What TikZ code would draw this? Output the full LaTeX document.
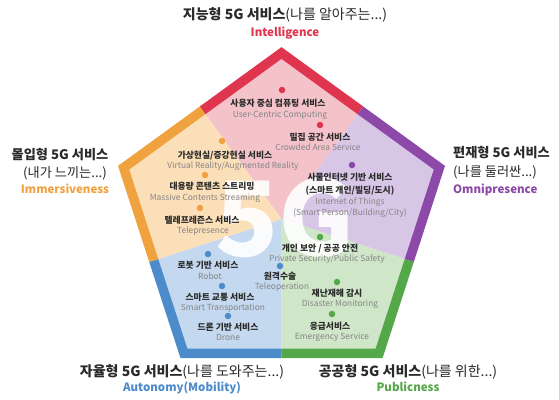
\documentclass[tikz,border=0pt]{standalone}
\usepackage{fontspec}
\setmainfont{Noto Sans CJK KR}
\usetikzlibrary{calc}

\definecolor{cred}{HTML}{E0354F}
\definecolor{credl}{HTML}{F4C3C9}
\definecolor{corange}{HTML}{F0A23F}
\definecolor{corangel}{HTML}{FBDFB9}
\definecolor{cpurple}{HTML}{8C49A8}
\definecolor{cpurplel}{HTML}{D8C6E7}
\definecolor{cgreen}{HTML}{55A84A}
\definecolor{cgreenl}{HTML}{D0E6C8}
\definecolor{cblue}{HTML}{4D8CCB}
\definecolor{cbluel}{HTML}{C4D8F0}
\definecolor{darktext}{HTML}{2A2A2A}
\definecolor{engray}{HTML}{858585}

\tikzset{
  band/.style={line width=9.5pt, line join=miter},
  dot/.style={circle, inner sep=0pt, minimum size=6.5pt},
  kor/.style={font=\fontsize{8.8}{10}\selectfont\bfseries, text=darktext,
              inner sep=0pt, text height=7.4pt, text depth=0.9pt},
  eng/.style={font=\fontsize{8.4}{10}\selectfont, text=engray,
              inner sep=0pt, text height=6.2pt, text depth=1.6pt},
  ttl/.style={font=\fontsize{14}{16}\selectfont\bfseries, text=darktext,
              inner sep=0pt, text height=11.5pt, text depth=2pt},
  sidettl/.style={ttl, font=\fontsize{13.2}{16}\selectfont\bfseries},
  sidesub/.style={ttl, font=\fontsize{13.2}{16}\selectfont},
  sub/.style={font=\fontsize{11.5}{14}\selectfont\bfseries, inner sep=0pt,
              text height=8.8pt, text depth=2.6pt},
}

\begin{document}
\begin{tikzpicture}[x=1pt,y=-1pt]
\useasboundingbox (0,0) rectangle (559,399);
\fill[white] (0,0) rectangle (559,399);

% pentagon geometry
\coordinate (c)  at (281.5,219);
\coordinate (v0) at (281.5,53);
\coordinate (v1) at (439.4,167.7);
\coordinate (v2) at (379.1,353.3);
\coordinate (v3) at (183.9,353.3);
\coordinate (v4) at (123.6,167.7);
\coordinate (m01) at ($(v0)!0.5!(v1)$);
\coordinate (m12) at ($(v1)!0.5!(v2)$);
\coordinate (m23) at ($(v2)!0.5!(v3)$);
\coordinate (m34) at ($(v3)!0.5!(v4)$);
\coordinate (m40) at ($(v4)!0.5!(v0)$);

% sector tints
\fill[credl]    (c) -- (m40) -- (v0) -- (m01) -- cycle;
\fill[cpurplel] (c) -- (m01) -- (v1) -- (m12) -- cycle;
\fill[cgreenl]  (c) -- (m12) -- (v2) -- (m23) -- cycle;
\fill[cbluel]   (c) -- (m23) -- (v3) -- (m34) -- cycle;
\fill[corangel] (c) -- (m34) -- (v4) -- (m40) -- cycle;

% outer bands
\draw[band, cred]    (m40) -- (v0) -- (m01);
\draw[band, cpurple] (m01) -- (v1) -- (m12);
\draw[band, cgreen]  (m12) -- (v2) -- (m23);
\draw[band, cblue]   (m23) -- (v3) -- (m34);
\draw[band, corange] (m34) -- (v4) -- (m40);

% central mark
\node[font=\fontsize{104}{104}\selectfont\bfseries, text=white, opacity=0.9,
      inner sep=0pt, text height=76pt, text depth=0pt] (fiveg) at (285,218) {5G};

% intelligence
\node[dot, fill=cred] (dr1) at (282,90) {};
\node[kor] (kr1) at (278,103) {사용자 중심 컴퓨팅 서비스};
\node[eng] (er1) at (280,115) {User-Centric Computing};
\node[dot, fill=cred] (dr2) at (320,125) {};
\node[kor] (kr2) at (320,137) {밀집 공간 서비스};
\node[eng] (er2) at (318,148) {Crowded Area Service};

% immersiveness
\node[dot, fill=corange] (do1) at (222,141) {};
\node[kor] (ko1) at (225,155) {가상현실/증강현실 서비스};
\node[eng] (eo1) at (233,166) {Virtual Reality/Augmented Reality};
\node[dot, fill=corange] (do2) at (205,175) {};
\node[kor] (ko2) at (212,186) {대용량 콘텐츠 스트리밍};
\node[eng] (eo2) at (205,198) {Massive Contents Streaming};
\node[dot, fill=corange] (do3) at (200,208) {};
\node[kor] (ko3) at (202,220) {텔레프레즌스 서비스};
\node[eng] (eo3) at (203,231) {Telepresence};

% omnipresence
\node[dot, fill=cpurple] (dp1) at (352,165) {};
\node[kor] (kp1) at (350,177) {사물인터넷 기반 서비스};
\node[kor] (kp2) at (350,190) {(스마트 개인/빌딩/도시)};
\node[eng] (ep1) at (350,202) {Internet of Things};
\node[eng] (ep2) at (350,213) {(Smart Person/Building/City)};

% publicness
\node[dot, fill=cgreen] (dg1) at (320,237) {};
\node[kor] (kg1) at (320,248) {개인 보안 / 공공 안전};
\node[eng] (eg1) at (327,259) {Private Security/Public Safety};
\node[dot, fill=cgreen] (dg2) at (337,282) {};
\node[kor] (kg2) at (337,293) {재난재해 감시};
\node[eng] (eg2) at (340,304) {Disaster Monitoring};
\node[dot, fill=cgreen] (dg3) at (332,314) {};
\node[kor] (kg3) at (330,326) {응급서비스};
\node[eng] (eg3) at (332,337) {Emergency Service};

% autonomy
\node[dot, fill=cblue] (db1) at (208,254) {};
\node[kor] (kb1) at (208,265) {로봇 기반 서비스};
\node[eng] (eb1) at (210,277) {Robot};
\node[dot, fill=cblue] (db2) at (280,266) {};
\node[kor] (kb2) at (280,276) {원격수술};
\node[eng] (eb2) at (282,287) {Teleoperation};
\node[dot, fill=cblue] (db3) at (222,286) {};
\node[kor] (kb3) at (220,297) {스마트 교통 서비스};
\node[eng] (eb3) at (223,308) {Smart Transportation};
\node[dot, fill=cblue] (db4) at (228,316) {};
\node[kor] (kb4) at (228,327) {드론 기반 서비스};
\node[eng] (eb4) at (228,338) {Drone};

% category titles
\node[ttl] (t0) at (285,15) {지능형 5G 서비스\mdseries(나를 알아주는...)};
\node[sub, text=cred] (s0) at (285,33) {Intelligence};

\node[sidettl] (t4a) at (60,155) {몰입형 5G 서비스};
\node[sidesub] (t4b) at (65,173) {(내가 느끼는...)};
\node[sub, text=corange] (s4) at (65,190) {Immersiveness};

\node[sidettl, anchor=west] (t1a) at (453,153) {편재형 5G 서비스};
\node[sidesub, anchor=west] (t1b) at (453,172) {(나를 둘러싼...)};
\node[sub, anchor=west, text=cpurple] (s1) at (453,190) {Omnipresence};

\node[ttl] (t3) at (182,372) {자율형 5G 서비스\mdseries(나를 도와주는...)};
\node[sub, text=cblue] (s3) at (182,388) {Autonomy(Mobility)};

\node[ttl] (t2) at (408,372) {공공형 5G 서비스\mdseries(나를 위한...)};
\node[sub, text=cgreen] (s2) at (408,388) {Publicness};
\end{tikzpicture}
\end{document}
